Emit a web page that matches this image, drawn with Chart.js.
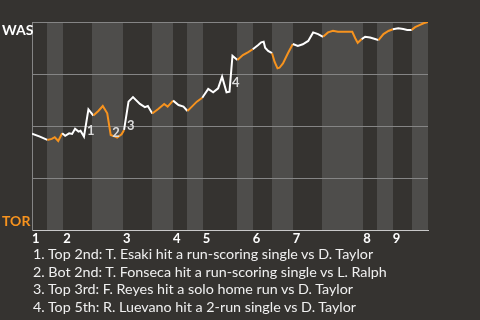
<!DOCTYPE html>
<html><head><meta charset="utf-8">
<script src="https://cdn.jsdelivr.net/npm/chart.js@4.4.1/dist/chart.umd.min.js"></script>
<style>
html,body{margin:0;padding:0;background:#353330;width:480px;height:320px;overflow:hidden;}
#wrap{position:relative;width:480px;height:320px;}
canvas{position:absolute;left:0;top:0;}
#notes{position:absolute;left:33px;top:245px;color:#f0f0f0;font:14.3px Lato, sans-serif;line-height:17.7px;white-space:nowrap;}
</style></head><body>
<div id="wrap"><canvas id="c" width="480" height="320"></canvas><div id="notes"></div></div>
<script>
// game progress (plate-appearance scale) and WAS win probability
const progress = [0,1.6,3.1,4.0,4.6,5.3,6.1,6.7,7.5,8.1,8.7,9.4,9.8,10.5,11.4,12.4,13.4,14.3,15.2,15.9,16.8,17.2,18.1,18.6,19.5,20.4,21.8,22.8,23.4,24.3,25.5,26.7,27.4,28.5,29.6,30.6,31.4,32.3,33.3,34.4,35.6,36.6,37.6,38.4,39.3,39.9,40.5,41.5,42.6,43.6,44.6,45.7,46.3,46.8,47.1,47.7,48.5,49.0,49.6,50.0,50.7,51.7,52.7,53.7,54.7,55.8,56.8,57.8,58.8,59.8,60.8,61.8,62.8,63.8,64.7,65.3,65.8,66.6,67.3,68.3,69.3,70.0,71.0,72.0,72.9,74.0,75.0,75.8,76.7,77.4,78.4,79.1,80.0];
const winProb = [0.463,0.449,0.433,0.438,0.446,0.428,0.465,0.453,0.465,0.462,0.487,0.473,0.477,0.449,0.580,0.550,0.572,0.596,0.561,0.457,0.449,0.444,0.460,0.481,0.617,0.639,0.606,0.591,0.596,0.560,0.582,0.606,0.593,0.622,0.601,0.593,0.572,0.593,0.617,0.636,0.678,0.662,0.681,0.737,0.662,0.665,0.838,0.817,0.841,0.854,0.869,0.889,0.902,0.905,0.876,0.861,0.850,0.809,0.777,0.780,0.801,0.850,0.894,0.885,0.893,0.909,0.950,0.942,0.929,0.950,0.958,0.953,0.953,0.953,0.953,0.922,0.900,0.918,0.929,0.925,0.918,0.913,0.942,0.957,0.965,0.970,0.966,0.962,0.962,0.975,0.986,0.994,1.0];
// start of each half inning (top 1st, bottom 1st, top 2nd, ...)
const halfInningStarts = [0,3.0,6.3,12.1,18.4,24.2,28.5,31.3,34.5,41.4,44.6,48.5,52.7,58.6,66.9,69.7,72.9,76.8];
const gameEnd = 80;
const inningLabels = ['1','2','3','4','5','6','7','8','9'];
const teamLabels = ['WAS','TOR'];
const eventNums = ['1','2','3','4'];
const eventX = [11.1,16.2,19.2,40.4];
const eventY = [0.457,0.447,0.481,0.688];
const eventNotes = [
  'Top 2nd: T. Esaki hit a run-scoring single vs D. Taylor',
  'Bot 2nd: T. Fonseca hit a run-scoring single vs L. Ralph',
  'Top 3rd: F. Reyes hit a solo home run vs D. Taylor',
  'Top 5th: R. Luevano hit a 2-run single vs D. Taylor'
];

const WHITE = '#ffffff', ORANGE = '#f7931e', BAND = '#4e4d4b', GRID = '#858585', AXIS = '#c8c8c8';

document.getElementById('notes').innerHTML = eventNotes.map((t,i)=>`<div>${i+1}. ${t}</div>`).join('');

function halfIndex(x){ let k=0; for(let i=0;i<halfInningStarts.length;i++){ if(x>=halfInningStarts[i]) k=i; } return k; }

const bandsPlugin = {
  id:'bands',
  beforeDraw(chart){
    const {ctx, chartArea:a, scales:{x}} = chart;
    ctx.save(); ctx.fillStyle = BAND;
    for(let i=1;i<halfInningStarts.length;i+=2){
      const x0 = Math.round(x.getPixelForValue(halfInningStarts[i]));
      const end = i+1<halfInningStarts.length ? halfInningStarts[i+1] : gameEnd;
      const x1 = Math.round(x.getPixelForValue(end));
      ctx.fillRect(x0, a.top, x1-x0, a.bottom-a.top);
    }
    ctx.restore();
  },
  afterDatasetsDraw(chart){
    const {ctx, chartArea:a, scales:{x,y}} = chart;
    ctx.save();
    ctx.font = 'bold 13px Lato, sans-serif';
    ctx.fillStyle = '#dcdcdc'; ctx.textAlign='left'; ctx.textBaseline='alphabetic';
    eventNums.forEach((n,i)=>ctx.fillText(n, x.getPixelForValue(eventX[i]), y.getPixelForValue(eventY[i])));
    ctx.font = 'bold 14px Lato, sans-serif';
    ctx.fillStyle = WHITE; ctx.fillText(teamLabels[0], 2, a.top+13);
    ctx.fillStyle = ORANGE; ctx.fillText(teamLabels[1], 2, a.bottom-4);
    ctx.restore();
  }
};

new Chart(document.getElementById('c'), {
  type:'line',
  data:{ datasets:[{
    data: progress.map((p,i)=>({x:p, y:winProb[i]})),
    borderWidth:2, pointRadius:0, tension:0, fill:false, borderColor:WHITE,
    segment:{ borderColor: c => halfIndex((c.p0.parsed.x+c.p1.parsed.x)/2)%2===1 ? ORANGE : WHITE }
  }]},
  options:{
    responsive:false, animation:false, devicePixelRatio:1,
    layout:{ padding:{ left:0, top:22, right:52, bottom:0 } },
    plugins:{ legend:{display:false}, tooltip:{enabled:false} },
    scales:{
      x:{ type:'linear', min:0, max:gameEnd,
        grid:{ display:false },
        border:{ display:true, color:AXIS, width:1 },
        afterBuildTicks(s){ s.ticks = halfInningStarts.filter((v,i)=>i%2===0).map(v=>({value:v})); },
        afterFit(s){ s.height = 90; },
        ticks:{ autoSkip:false, maxRotation:0, align:'start', padding:-7, color:WHITE,
          font:{ family:'Lato', size:13, weight:'bold' },
          callback:(v,i)=>inningLabels[i] }
      },
      y:{ min:0, max:1,
        afterBuildTicks(s){ s.ticks = [0,0.25,0.5,0.75,1].map(v=>({value:v})); },
        afterFit(s){ s.width = 32; },
        ticks:{ display:false },
        grid:{ color: c => c.tick.value===0 ? AXIS : GRID, lineWidth:1, drawTicks:false },
        border:{ display:true, color:GRID, width:1 }
      }
    }
  },
  plugins:[bandsPlugin]
});
</script>
</body></html>
